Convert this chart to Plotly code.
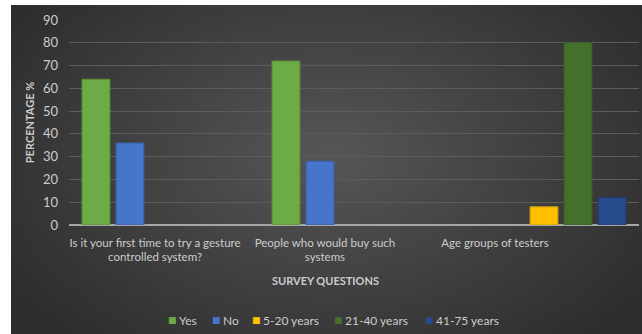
import plotly.graph_objects as go
import zlib, struct, base64

category_labels = ["Is it your first time to try a gesture<br>controlled system?",
                   "People who would buy such<br>systems",
                   "Age groups of testers"]
category_pos = [0, 1, 2]
yes_vals = [64, 72, None]
no_vals = [36, 28, None]
age_5_20 = [None, None, 8]
age_21_40 = [None, None, 80]
age_41_75 = [None, None, 12]
series_names = ["Yes", "No", "5-20 years", "21-40 years", "41-75 years"]
y_ticks = [0, 10, 20, 30, 40, 50, 60, 70, 80, 90]

# radial gradient background as PNG
def make_png(w, h):
    rows = b""
    cx, cy = w * 0.5, h * 0.45
    for j in range(h):
        row = b"\x00"
        for i in range(w):
            dx = (i - cx) / (w * 0.6)
            dy = (j - cy) / (h * 0.75)
            d = min(1.0, (dx * dx + dy * dy) ** 0.5)
            v = int(0x57 - (0x57 - 0x2e) * d)
            row += bytes([v, v, v])
        rows += row
    def chunk(t, data):
        c = struct.pack(">I", len(data)) + t + data
        return c + struct.pack(">I", zlib.crc32(t + data) & 0xffffffff)
    png = b"\x89PNG\r\n\x1a\n"
    png += chunk(b"IHDR", struct.pack(">IIBBBBB", w, h, 8, 2, 0, 0, 0))
    png += chunk(b"IDAT", zlib.compress(rows))
    png += chunk(b"IEND", b"")
    return "data:image/png;base64," + base64.b64encode(png).decode()

bg = make_png(128, 64)

W, H = 642, 334
ml, mr, mt, mb = 69, 3, 20, 109
pw, ph = W - ml - mr, H - mt - mb
def px_x(p): return (p - ml) / pw
def px_y(p): return (H - mb - p) / ph

fig = go.Figure()
colors = ["#6dab47", "#4775c9", "#ffc000", "#45702c", "#264a8c"]
lines = ["#5a8f3a", "#3a60a8", "#c79a10", "#3a5e25", "#203e75"]
values = [yes_vals, no_vals, age_5_20, age_21_40, age_41_75]
for name, vals, col, lc in zip(series_names, values, colors, lines):
    fig.add_trace(go.Bar(x=category_pos, y=vals, name=name, showlegend=False,
                         marker=dict(color=col, line=dict(color=lc, width=1))))

font_fam = "Lato"
txt_col = "#cccccc"
annotations = [
    dict(text="<b>SURVEY QUESTIONS</b>", xref="paper", yref="paper",
         x=px_x(325), y=px_y(280), xanchor="center", yanchor="middle",
         showarrow=False, font=dict(size=11, color=txt_col, family=font_fam)),
]
# legend drawn as text items
sq_x = [167, 211, 251, 333, 424]
for name, col, sx in zip(series_names, colors, sq_x):
    annotations.append(dict(text="■", xref="paper", yref="paper", x=px_x(sx - 1), y=px_y(320),
                            xanchor="left", yanchor="middle", showarrow=False,
                            font=dict(size=9, color=col, family="DejaVu Sans")))
    annotations.append(dict(text=name, xref="paper", yref="paper", x=px_x(sx + 10), y=px_y(320),
                            xanchor="left", yanchor="middle", showarrow=False,
                            font=dict(size=12, color=txt_col, family=font_fam)))

fig.update_layout(
    width=W, height=H,
    margin=dict(l=ml, r=mr, t=mt, b=mb),
    paper_bgcolor="white",
    plot_bgcolor="rgba(0,0,0,0)",
    barmode="group", bargap=0.105, bargroupgap=0.18,
    font=dict(family=font_fam, color=txt_col, size=12),
    images=[dict(source=bg, xref="paper", yref="paper",
                 x=px_x(11), y=px_y(5), sizex=px_x(642) - px_x(11),
                 sizey=px_y(5) - px_y(334), sizing="stretch",
                 xanchor="left", yanchor="top", layer="below")],
    annotations=annotations,
    showlegend=False,
)
# tick labels sit slightly left of each group centre, as in the reference
label_shift = [-0.047, -0.153, -0.258]
fig.update_xaxes(range=[-0.5, 2.5], showgrid=False, showline=False, ticks="", zeroline=False,
                 tickvals=[p + s for p, s in zip(category_pos, label_shift)],
                 ticktext=category_labels, tickangle=0, ticklabelstandoff=9,
                 tickfont=dict(size=11.5, color=txt_col))
fig.update_yaxes(range=[0, 90], tickvals=y_ticks, showgrid=True, gridcolor="#5c5c5c", gridwidth=1,
                 zeroline=True, zerolinecolor="#a6a6a6", zerolinewidth=2,
                 tickfont=dict(size=13, color=txt_col), ticks="", ticklabelstandoff=10,
                 title=dict(text="<b>PERCENTAGE %</b>", font=dict(size=11, color=txt_col), standoff=6))
fig.write_html("out.html")
